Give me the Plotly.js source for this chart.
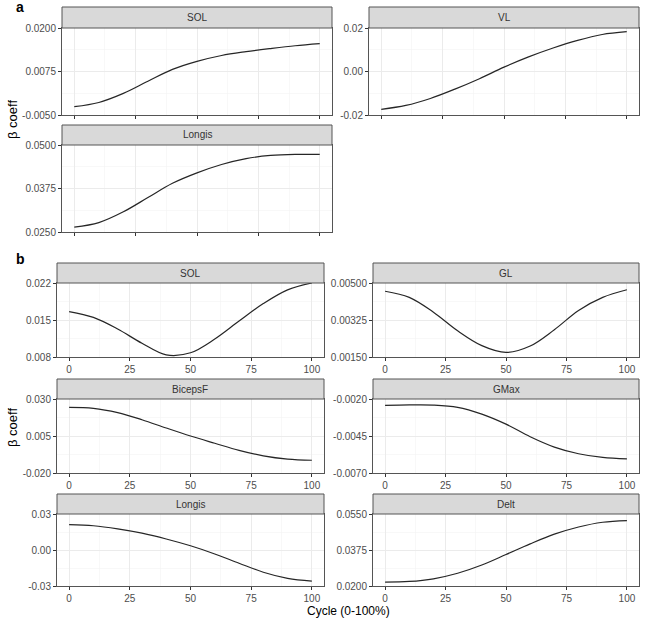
<!DOCTYPE html>
<html>
<head>
<meta charset="utf-8">
<script src="https://cdn.plot.ly/plotly-3.0.1.min.js"></script>
<style>html,body{margin:0;padding:0;background:#fff}#chart{width:648px;height:619px}</style>
</head>
<body>
<div id="chart"></div>
<script>
// ---- data ----
const cycle = [0, 10, 20, 30, 40, 50, 60, 70, 80, 90, 100];
const xTicks = [0, 25, 50, 75, 100];
const xTickText = ['0', '25', '50', '75', '100'];

const panelNames = ['SOL', 'VL', 'Longis', 'SOL', 'GL', 'BicepsF', 'GMax', 'Longis', 'Delt'];
const panelGroup = ['a', 'a', 'a', 'b', 'b', 'b', 'b', 'b', 'b'];

const aSOL     = [-0.0026, -0.0014, 0.0012, 0.0047, 0.0081, 0.0104, 0.0121, 0.0132, 0.0141, 0.0149, 0.0155];
const aVL      = [-0.0174, -0.0156, -0.0124, -0.0081, -0.0033, 0.0020, 0.0067, 0.0108, 0.0143, 0.0170, 0.0183];
const aLongis  = [0.0264, 0.0277, 0.0308, 0.0349, 0.0390, 0.0420, 0.0444, 0.0461, 0.0470, 0.0473, 0.0473];
const bSOL     = [0.0166, 0.0155, 0.0133, 0.0106, 0.0084, 0.0088, 0.0114, 0.0148, 0.0181, 0.0207, 0.0220];
const bGL      = [0.00461, 0.00432, 0.00362, 0.00274, 0.00204, 0.00172, 0.00202, 0.00279, 0.00370, 0.00432, 0.00468];
const bBicepsF = [0.0243, 0.0237, 0.0208, 0.0160, 0.0104, 0.0050, 0.0001, -0.0047, -0.0084, -0.0106, -0.0114];
const bGMax    = [-0.00243, -0.00240, -0.00241, -0.00256, -0.00302, -0.00370, -0.00455, -0.00525, -0.00570, -0.00595, -0.00605];
const bLongis  = [0.0211, 0.0202, 0.0176, 0.0140, 0.0092, 0.0035, -0.0033, -0.0110, -0.0185, -0.0236, -0.0259];
const bDelt    = [0.0219, 0.0222, 0.0235, 0.0262, 0.0302, 0.0353, 0.0405, 0.0452, 0.0487, 0.0510, 0.0518];

const yTickVals = [
  [-0.005, 0.0075, 0.02], [-0.02, 0.0, 0.02], [0.025, 0.0375, 0.05],
  [0.008, 0.015, 0.022], [0.0015, 0.00325, 0.005], [-0.02, 0.005, 0.03],
  [-0.007, -0.0045, -0.002], [-0.03, 0.0, 0.03], [0.02, 0.0375, 0.055]
];
const yTickText = [
  ['-0.0050', '0.0075', '0.0200'], ['-0.02', '0.00', '0.02'], ['0.0250', '0.0375', '0.0500'],
  ['0.008', '0.015', '0.022'], ['0.00150', '0.00325', '0.00500'], ['-0.020', '0.005', '0.030'],
  ['-0.0070', '-0.0045', '-0.0020'], ['-0.03', '0.00', '0.03'], ['0.0200', '0.0375', '0.0550']
];
const series = [aSOL, aVL, aLongis, bSOL, bGL, bBicepsF, bGMax, bLongis, bDelt];

// ---- layout geometry (pixels) ----
const W = 648, H = 619;
const boxes = [
  {x0: 62, x1: 332, s0: 7, y0: 28, y1: 115},
  {x0: 369, x1: 639, s0: 7, y0: 28, y1: 115},
  {x0: 62, x1: 332, s0: 125, y0: 145, y1: 232},
  {x0: 57, x1: 324, s0: 263, y0: 283, y1: 357},
  {x0: 373, x1: 639, s0: 263, y0: 283, y1: 357},
  {x0: 57, x1: 324, s0: 379, y0: 399, y1: 473},
  {x0: 373, x1: 639, s0: 379, y0: 399, y1: 473},
  {x0: 57, x1: 324, s0: 494, y0: 514, y1: 586},
  {x0: 373, x1: 639, s0: 494, y0: 514, y1: 586}
];
const px = v => v / W;
const py = v => 1 - v / H;

const FONT = 'Liberation Sans, Arial, sans-serif';
const tickFont = {family: FONT, size: 10, color: '#4D4D4D'};
const traces = [];
const layout = {
  width: W, height: H,
  margin: {l: 0, r: 0, t: 0, b: 0},
  paper_bgcolor: '#fff', plot_bgcolor: '#fff',
  showlegend: false,
  font: {family: FONT, color: '#1A1A1A'},
  shapes: [], annotations: []
};

series.forEach((ys, i) => {
  const k = i + 1;
  const xa = 'xaxis' + (k === 1 ? '' : k), ya = 'yaxis' + (k === 1 ? '' : k);
  const xr = 'x' + (k === 1 ? '' : k), yr = 'y' + (k === 1 ? '' : k);
  const b = boxes[i];
  const tv = yTickVals[i];
  traces.push({
    x: cycle, y: ys, xaxis: xr, yaxis: yr, type: 'scatter', mode: 'lines',
    line: {color: '#262626', width: 1.2, shape: 'spline', smoothing: 1.0},
    hoverinfo: 'skip', cliponaxis: true
  });
  layout[xa] = {
    domain: [px(b.x0), px(b.x1)], anchor: yr, range: [-5, 105],
    tickmode: 'array', tickvals: xTicks, ticktext: xTickText,
    showticklabels: panelGroup[i] === 'b',
    ticks: 'outside', ticklen: 3, tickwidth: 1, tickcolor: '#333',
    tickfont: tickFont,
    showgrid: true, gridcolor: '#EBEBEB', gridwidth: 1,
    minor: {tick0: 12.5, dtick: 25, showgrid: true, gridcolor: '#F4F4F4', gridwidth: 0.6, ticklen: 0},
    zeroline: false, showline: true, mirror: true, linecolor: '#555', linewidth: 1,
    fixedrange: true
  };
  const step = (tv[2] - tv[0]) / 4;
  layout[ya] = {
    domain: [py(b.y1), py(b.y0)], anchor: xr, range: [tv[0], tv[2]],
    tickmode: 'array', tickvals: tv, ticktext: yTickText[i],
    ticks: 'outside', ticklen: 3, tickwidth: 1, tickcolor: '#333',
    tickfont: tickFont,
    showgrid: true, gridcolor: '#EBEBEB', gridwidth: 1,
    minor: {tickmode: 'array', tickvals: [tv[0] + step, tv[0] + 3 * step], showgrid: true, gridcolor: '#F4F4F4', gridwidth: 0.6, ticklen: 0},
    zeroline: false, showline: true, mirror: true, linecolor: '#555', linewidth: 1,
    fixedrange: true
  };
  // strip
  layout.shapes.push({
    type: 'rect', xref: 'paper', yref: 'paper',
    x0: px(b.x0), x1: px(b.x1), y0: py(b.y0), y1: py(b.s0),
    fillcolor: '#D9D9D9', line: {color: '#555', width: 1}, layer: 'above'
  });
  layout.annotations.push({
    xref: 'paper', yref: 'paper', x: px((b.x0 + b.x1) / 2), y: py((b.s0 + b.y0) / 2),
    text: panelNames[i], showarrow: false, xanchor: 'center', yanchor: 'middle',
    font: {family: FONT, size: 10, color: '#333'}
  });
});

// panel labels and axis titles
layout.annotations.push(
  {xref: 'paper', yref: 'paper', x: px(20), y: py(7), text: '<b>a</b>', showarrow: false,
   xanchor: 'center', yanchor: 'middle', font: {size: 14, color: '#000'}},
  {xref: 'paper', yref: 'paper', x: px(20), y: py(259), text: '<b>b</b>', showarrow: false,
   xanchor: 'center', yanchor: 'middle', font: {size: 14, color: '#000'}},
  {xref: 'paper', yref: 'paper', x: px(12), y: py(120), text: 'β coeff', showarrow: false,
   textangle: -90, xanchor: 'center', yanchor: 'middle', font: {size: 13, color: '#000'}},
  {xref: 'paper', yref: 'paper', x: px(12), y: py(428), text: 'β coeff', showarrow: false,
   textangle: -90, xanchor: 'center', yanchor: 'middle', font: {size: 13, color: '#000'}},
  {xref: 'paper', yref: 'paper', x: px(348), y: 0, text: 'Cycle (0-100%)', showarrow: false,
   xanchor: 'center', yanchor: 'bottom', borderpad: 0, font: {size: 12, color: '#000'}}
);

Plotly.newPlot('chart', traces, layout, {staticPlot: true, displayModeBar: false});
</script>
</body>
</html>
